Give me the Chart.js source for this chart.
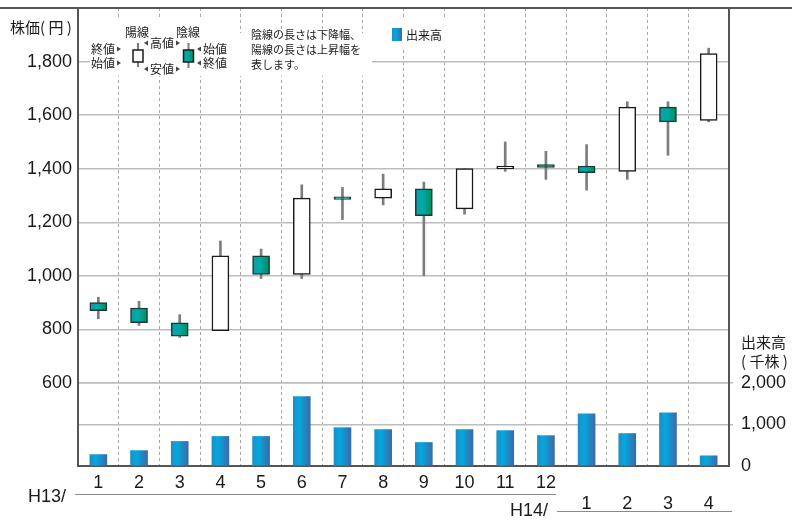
<!DOCTYPE html>
<html lang="ja">
<head>
<meta charset="utf-8">
<title>株価・出来高</title>
<script src="https://cdn.jsdelivr.net/npm/chart.js@4/dist/chart.umd.min.js"></script>
<style>
  html, body { margin: 0; padding: 0; background: #fff; }
  #chart { display: block; }
</style>
</head>
<body>
<canvas id="chart" width="792" height="520"></canvas>
<script>
var months   = ['1', '2', '3', '4', '5', '6', '7', '8', '9', '10', '11', '12', '1', '2', '3', '4'];
var eras     = ['H13/', 'H14/'];
var eraStart = 12; // index of H14/1

// 月足 (円)
var opens  = [900, 880, 825, 795, 1075, 1005, 1295, 1290, 1325, 1250, 1400, 1415, 1410, 1390, 1630, 1580];
var highs  = [920, 905, 855, 1130, 1100, 1340, 1330, 1380, 1350, 1400, 1500, 1465, 1490, 1650, 1650, 1850];
var lows   = [840, 815, 770, 795, 990, 990, 1210, 1265, 1000, 1230, 1390, 1360, 1320, 1360, 1450, 1575];
var closes = [870, 825, 775, 1075, 1005, 1290, 1285, 1325, 1225, 1400, 1410, 1405, 1385, 1630, 1575, 1830];

// 出来高 (千株)
var volumes = [275, 370, 590, 710, 710, 1665, 920, 875, 565, 875, 850, 730, 1255, 780, 1280, 245];

var priceTicks  = [600, 800, 1000, 1200, 1400, 1600, 1800];
var volumeTicks = [0, 1000, 2000];

var FONT_NUM = '"Liberation Sans", Arial, sans-serif';
var FONT_JP  = '"Noto Sans CJK JP", "Noto Sans", sans-serif';
var INK      = '#1a1a1a';
var GRID     = '#bdbdbd';
var AXIS     = '#555555';

var Kabuka = {

    bodyStops:   [[0, '#0b9ea6'], [0.45, '#00aaa8'], [1, '#058a55']],
    volumeStops: [[0, '#1a8fc6'], [0.35, '#04a8df'], [1, '#3c6aa8']],

    gradient: function (ctx, x0, x1, stops) {
        var g = ctx.createLinearGradient(x0, 0, x1, 0);
        for (var i = 0; i < stops.length; i++) {
            g.addColorStop(stops[i][0], stops[i][1]);
        }
        return g;
    },

    // horizontal gradient across one bar, centred on its category
    barFill: function (context, stops, width) {
        var chart = context.chart;
        var xs = chart.scales ? chart.scales.x : null;
        if (!chart.chartArea || !xs || context.dataIndex === undefined) {
            return stops[1][1];
        }
        var cx = xs.getPixelForValue(context.dataIndex);
        if (!isFinite(cx)) {
            return stops[1][1];
        }
        return Kabuka.gradient(chart.ctx, cx - width / 2, cx + width / 2, stops);
    },

    isUp: function (i) {
        return closes[i] >= opens[i];
    },

    fmt: function (v) {
        return Number(v).toLocaleString('en-US');
    },

    triRight: function (ctx, x, y) {
        ctx.beginPath();
        ctx.moveTo(x - 2, y - 2.5);
        ctx.lineTo(x + 2, y);
        ctx.lineTo(x - 2, y + 2.5);
        ctx.closePath();
        ctx.fill();
    },

    triLeft: function (ctx, x, y) {
        ctx.beginPath();
        ctx.moveTo(x + 2, y - 2.5);
        ctx.lineTo(x - 2, y);
        ctx.lineTo(x + 2, y + 2.5);
        ctx.closePath();
        ctx.fill();
    },

    miniCandle: function (ctx, x, top, bottom, wickTop, wickBottom, fill) {
        ctx.strokeStyle = '#7d7d7d';
        ctx.lineWidth = 2;
        ctx.beginPath();
        ctx.moveTo(x + 5, wickTop);
        ctx.lineTo(x + 5, wickBottom);
        ctx.stroke();
        ctx.fillStyle = fill;
        ctx.fillRect(x, top, 10, bottom - top);
        ctx.strokeStyle = INK;
        ctx.lineWidth = 1.5;
        ctx.strokeRect(x, top, 10, bottom - top);
    },

    drawLegend: function (ctx) {
        ctx.save();
        // white backing behind the legend items
        ctx.fillStyle = '#fff';
        ctx.fillRect(90, 33, 282, 43);
        ctx.fillRect(90, 20, 142, 13);
        ctx.fillRect(386, 20, 60, 28);

        ctx.textBaseline = 'middle';
        ctx.fillStyle = INK;
        ctx.font = '12px ' + FONT_JP;
        ctx.textAlign = 'center';
        ctx.fillText('陽線', 137, 32);
        ctx.fillText('陰線', 188, 32);

        ctx.textAlign = 'right';
        ctx.fillText('終値', 115, 49);
        ctx.fillText('始値', 115, 63);
        ctx.textAlign = 'left';
        ctx.fillText('高値', 150, 43);
        ctx.fillText('安値', 150, 69);
        ctx.fillText('始値', 203, 49);
        ctx.fillText('終値', 203, 63);

        ctx.fillStyle = '#444';
        Kabuka.triRight(ctx, 119, 49);
        Kabuka.triRight(ctx, 119, 63);
        Kabuka.triLeft(ctx, 146, 43);
        Kabuka.triRight(ctx, 178, 43);
        Kabuka.triLeft(ctx, 146, 69);
        Kabuka.triRight(ctx, 178, 69);
        Kabuka.triLeft(ctx, 199, 49);
        Kabuka.triLeft(ctx, 199, 63);

        Kabuka.miniCandle(ctx, 133, 50, 62, 43, 67, '#fff');
        Kabuka.miniCandle(ctx, 183.5, 50, 62, 43, 68,
            Kabuka.gradient(ctx, 183.5, 193.5, Kabuka.bodyStops));

        ctx.fillStyle = INK;
        ctx.font = '11px ' + FONT_JP;
        ctx.fillText('陰線の長さは下降幅、', 251, 35);
        ctx.fillText('陽線の長さは上昇幅を', 251, 50);
        ctx.fillText('表します。', 251, 65);

        ctx.fillStyle = Kabuka.gradient(ctx, 392, 402, Kabuka.volumeStops);
        ctx.fillRect(392, 28, 10, 13);
        ctx.fillStyle = INK;
        ctx.font = '12px ' + FONT_JP;
        ctx.fillText('出来高', 406, 35);
        ctx.restore();
    },

    drawFrame: function (chart) {
        var ctx = chart.ctx;
        ctx.save();
        // top rule
        ctx.strokeStyle = AXIS;
        ctx.lineWidth = 2;
        ctx.beginPath();
        ctx.moveTo(0, chart.chartArea.top);
        ctx.lineTo(chart.width, chart.chartArea.top);
        ctx.stroke();

        // axis titles
        ctx.fillStyle = INK;
        ctx.textBaseline = 'middle';
        ctx.textAlign = 'left';
        ctx.font = '15px ' + FONT_JP;
        ctx.fillText('株価( 円 )', 10, 27);
        ctx.fillText('出来高', 741, 342);
        ctx.fillText('( 千株 )', 741, 361);

        // era labels under the month ticks
        ctx.font = '18px ' + FONT_NUM;
        ctx.fillText(eras[0], 28, 497);
        ctx.textAlign = 'right';
        ctx.fillText(eras[1], 548, 511);
        ctx.strokeStyle = '#8a8a8a';
        ctx.lineWidth = 1;
        ctx.beginPath();
        ctx.moveTo(75, 494.5);
        ctx.lineTo(556, 494.5);
        ctx.moveTo(557, 511.5);
        ctx.lineTo(732, 511.5);
        ctx.stroke();
        ctx.restore();

        Kabuka.drawLegend(ctx);
    }
};

var decorPlugin = {
    id: 'kabukaDecor',
    afterDraw: function (chart) {
        Kabuka.drawFrame(chart);
    }
};

var wicks = [], bodies = [];
for (var i = 0; i < months.length; i++) {
    wicks.push([lows[i], highs[i]]);
    bodies.push([opens[i], closes[i]]);
}

new Chart(document.getElementById('chart'), {
    type: 'bar',
    data: {
        labels: months,
        datasets: [{
            label: '株価',
            data: bodies,
            yAxisID: 'price',
            grouped: false,
            order: 1,
            barThickness: 17,
            borderWidth: 1.5,
            borderSkipped: false,
            borderColor: function (c) {
                return Kabuka.isUp(c.dataIndex) ? INK : '#173a35';
            },
            backgroundColor: function (c) {
                return Kabuka.isUp(c.dataIndex) ? '#ffffff' : Kabuka.barFill(c, Kabuka.bodyStops, 17);
            }
        }, {
            label: 'ヒゲ',
            data: wicks,
            yAxisID: 'price',
            grouped: false,
            order: 2,
            barThickness: 2,
            backgroundColor: '#7d7d7d'
        }, {
            label: '出来高',
            data: volumes,
            yAxisID: 'vol',
            grouped: false,
            order: 3,
            barThickness: 17,
            backgroundColor: function (c) {
                return Kabuka.barFill(c, Kabuka.volumeStops, 17);
            }
        }]
    },
    options: {
        responsive: false,
        animation: false,
        events: [],
        layout: { padding: { top: 8, left: 0, right: 0, bottom: 0 } },
        plugins: {
            legend: { display: false },
            tooltip: { enabled: false }
        },
        scales: {
            x: {
                type: 'category',
                offset: true,
                grid: { offset: true, color: '#a8a8a8', lineWidth: 1, drawTicks: false },
                border: { display: true, color: AXIS, width: 2, dash: [3, 3] },
                ticks: {
                    autoSkip: false,
                    maxRotation: 0,
                    padding: 6,
                    color: INK,
                    font: { family: FONT_NUM, size: 18 },
                    callback: function (value, index) {
                        return index >= eraStart ? ['', months[index]] : months[index];
                    }
                },
                afterFit: function (s) {
                    s.height = 54;
                    s.paddingLeft = 0;
                    s.paddingRight = 0;
                }
            },
            price: {
                position: 'left',
                min: 290,
                max: 2000,
                afterBuildTicks: function (s) {
                    s.ticks = priceTicks.map(function (v) { return { value: v }; });
                },
                grid: { color: GRID, lineWidth: 1.5, drawTicks: false },
                border: { color: AXIS, width: 2 },
                ticks: {
                    padding: 6,
                    color: INK,
                    font: { family: FONT_NUM, size: 18 },
                    callback: function (v) { return Kabuka.fmt(v); }
                },
                afterFit: function (s) {
                    s.width = 78;
                    s.paddingTop = 0;
                    s.paddingBottom = 0;
                }
            },
            vol: {
                position: 'right',
                min: 0,
                max: 11000,
                afterBuildTicks: function (s) {
                    s.ticks = volumeTicks.map(function (v) { return { value: v }; });
                },
                grid: {
                    lineWidth: 1.5,
                    tickLength: 4,
                    color: function (c) {
                        return c.tick && c.tick.value === 0 ? 'rgba(0,0,0,0)' : GRID;
                    }
                },
                border: { color: AXIS, width: 2 },
                ticks: {
                    padding: 8,
                    color: INK,
                    font: { family: FONT_NUM, size: 18 },
                    callback: function (v) { return Kabuka.fmt(v); }
                },
                afterFit: function (s) {
                    s.width = 63;
                    s.paddingTop = 0;
                    s.paddingBottom = 0;
                }
            }
        }
    },
    plugins: [decorPlugin]
});
</script>
</body>
</html>
